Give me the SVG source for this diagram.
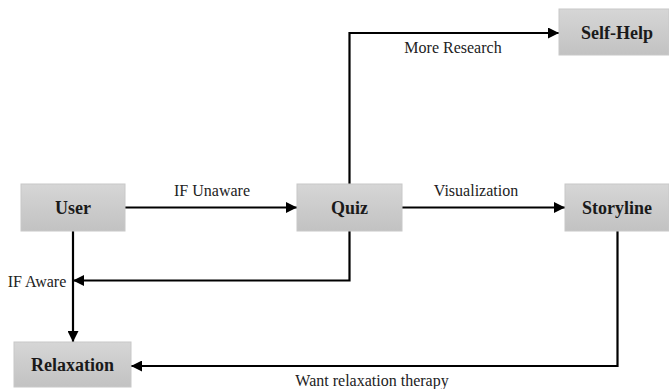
<svg xmlns="http://www.w3.org/2000/svg" width="669" height="389" viewBox="0 0 669 389">
<defs>
<linearGradient id="g" x1="0" y1="0" x2="0" y2="1">
<stop offset="0" stop-color="#d6d6d6"/>
<stop offset="1" stop-color="#c2c2c2"/>
</linearGradient>
<marker id="ah" viewBox="0 0 10 10" refX="10" refY="5" markerWidth="5" markerHeight="5" orient="auto" markerUnits="strokeWidth">
<path d="M0,0 L10,5 L0,10 z" fill="#000"/>
</marker>
<style>
.box{fill:url(#g);stroke:#c8c8c8;stroke-width:1}
.nt{font-family:"Liberation Serif","Times New Roman",serif;font-weight:bold;font-size:18px;fill:#1a1a1a;text-anchor:middle}
.lb{font-family:"Liberation Serif","Times New Roman",serif;font-size:16px;fill:#222;text-anchor:middle}
.c{fill:none;stroke:#000;stroke-width:2.2}
</style>
</defs>
<rect width="669" height="389" fill="#fff"/>
<g id="connectors">
<path class="c" d="M125,207.5 H297" marker-end="url(#ah)"/>
<path class="c" d="M402,207.5 H565" marker-end="url(#ah)"/>
<path class="c" d="M349.5,184 V33 H559" marker-end="url(#ah)"/>
<path class="c" d="M349.5,231 V280.5 H73" marker-end="url(#ah)"/>
<path class="c" d="M73,231 V342" marker-end="url(#ah)"/>
<path class="c" d="M617.5,231 V366 H131" marker-end="url(#ah)"/>
<text class="lb" x="212" y="196">IF Unaware</text>
<text class="lb" x="476" y="196">Visualization</text>
<text class="lb" x="453" y="53">More Research</text>
<text class="lb" x="37" y="287">IF Aware</text>
<text class="lb" x="372" y="386">Want relaxation therapy</text>
</g>
<g id="user"><rect class="box" x="21" y="184" width="104" height="47"/><text class="nt" x="73" y="214">User</text></g>
<g id="quiz"><rect class="box" x="297" y="184" width="105" height="47"/><text class="nt" x="349.5" y="214">Quiz</text></g>
<g id="self-help"><rect class="box" x="559" y="9" width="110" height="46"/><text class="nt" x="617" y="39">Self-Help</text></g>
<g id="storyline"><rect class="box" x="565" y="184" width="104" height="47"/><text class="nt" x="617" y="214">Storyline</text></g>
<g id="relaxation"><rect class="box" x="14" y="342" width="117" height="45"/><text class="nt" x="72.5" y="371">Relaxation</text></g>
</svg>
